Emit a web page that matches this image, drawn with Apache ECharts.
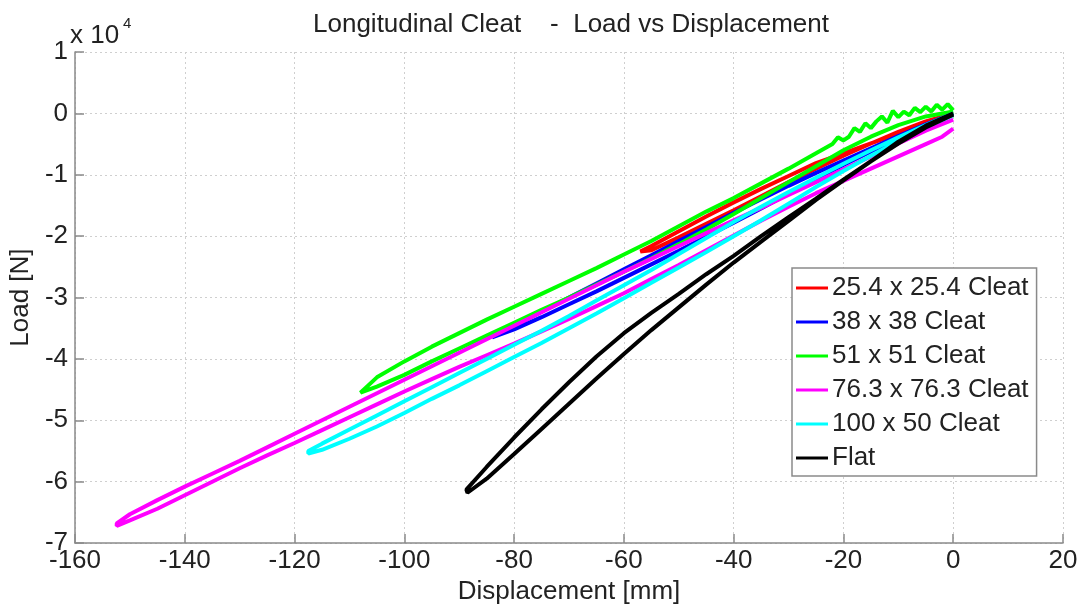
<!DOCTYPE html>
<html>
<head>
<meta charset="utf-8">
<script src="https://cdn.jsdelivr.net/npm/echarts@6/dist/echarts.min.js"></script>
<style>
html,body{margin:0;padding:0;background:#fff;}
#c{width:1084px;height:610px;}
</style>
</head>
<body>
<div id="c"></div>
<script>
// Tick labels
const xTicks = [-160, -140, -120, -100, -80, -60, -40, -20, 0, 20];
const yTicks = [1, 0, -1, -2, -3, -4, -5, -6, -7]; // x 10^4 N

const seriesNames = ['25.4 x 25.4 Cleat', '38 x 38 Cleat', '51 x 51 Cleat', '76.3 x 76.3 Cleat', '100 x 50 Cleat', 'Flat'];
const seriesColors = ['#ff0000', '#0000ff', '#00ff00', '#ff00ff', '#00ffff', '#000000'];

// [displacement mm, load N] — loading branch then unloading branch
const cleat25 = [
  [0,0],[-5,-1600],[-10,-3300],[-15,-4900],[-20,-6500],[-25,-8100],[-30,-10200],[-35,-12300],[-40,-14500],[-45,-16800],[-50,-19200],[-55,-21600],[-57,-22500],
  [-57,-22800],[-55,-22300],[-50,-20200],[-45,-18000],[-40,-15800],[-35,-13500],[-30,-11200],[-25,-9000],[-20,-6900],[-15,-4900],[-10,-3000],[-5,-1300],[0,0]
];
const cleat38 = [
  [0,0],[-5,-1800],[-10,-3700],[-15,-5700],[-20,-7700],[-25,-9700],[-30,-11800],[-35,-14000],[-40,-16200],[-45,-18500],[-50,-20800],[-55,-23100],[-60,-25400],[-65,-27700],[-70,-30000],[-75,-32300],[-80,-34600],[-84,-36500],
  [-84,-36700],[-80,-35200],[-75,-33200],[-70,-31100],[-65,-29000],[-60,-26800],[-55,-24600],[-50,-22400],[-45,-20100],[-40,-17800],[-35,-15500],[-30,-13100],[-25,-10700],[-20,-8400],[-15,-6200],[-10,-4000],[-5,-1900],[0,0]
];
const cleat51 = [
  [0,500],[-1,1500],[-2,600],[-3,1400],[-4,300],[-5,1100],[-6,200],[-7,900],[-8,-300],[-9,300],[-10,-600],[-11,400],[-12,-1500],[-13,-500],[-14,-1300],[-15,-2400],[-16,-1600],[-17,-3000],[-18,-2400],[-19,-3800],[-20,-4400],[-21,-3900],[-22,-5000],[-25,-6500],[-30,-9000],[-35,-11400],[-40,-13800],[-45,-16000],[-50,-18400],[-55,-20800],[-60,-23000],[-65,-25200],[-70,-27300],[-75,-29400],[-80,-31500],[-85,-33600],[-90,-35800],[-95,-38000],[-100,-40400],[-105,-43000],[-108,-45500],
  [-108,-45800],[-105,-44500],[-100,-42600],[-95,-40400],[-90,-38300],[-85,-36200],[-80,-34100],[-75,-32000],[-70,-30000],[-65,-27900],[-60,-25800],[-55,-23600],[-50,-21300],[-45,-18900],[-40,-16400],[-35,-13800],[-30,-11200],[-25,-8600],[-20,-6000],[-15,-3800],[-10,-1900],[-5,-500],[0,300]
];
const cleat76 = [
  [0,-1000],[-5,-2800],[-10,-4900],[-15,-7000],[-20,-9100],[-25,-11200],[-30,-13300],[-35,-15400],[-40,-17400],[-45,-19500],[-50,-21600],[-55,-23700],[-60,-25800],[-65,-28000],[-70,-30200],[-75,-32400],[-80,-34600],[-85,-36800],[-90,-39000],[-95,-41200],[-100,-43400],[-105,-45600],[-110,-47800],[-115,-50000],[-120,-52200],[-125,-54400],[-130,-56600],[-135,-58700],[-140,-60800],[-145,-63000],[-150,-65300],[-152.4,-66800],
  [-152.4,-67200],[-150,-66300],[-145,-64400],[-140,-62200],[-135,-60000],[-130,-57800],[-125,-55700],[-120,-53700],[-115,-51600],[-110,-49500],[-105,-47400],[-100,-45300],[-95,-43300],[-90,-41300],[-85,-39400],[-80,-37500],[-75,-35500],[-70,-33500],[-65,-31400],[-60,-29300],[-55,-27000],[-50,-24700],[-45,-22300],[-40,-19900],[-35,-17500],[-30,-15200],[-25,-13000],[-20,-11000],[-15,-9000],[-10,-7000],[-5,-5000],[-2,-3800],[0,-2500]
];
const cleat100 = [
  [0,0],[-5,-1900],[-10,-3900],[-15,-6000],[-20,-8200],[-25,-10500],[-30,-12800],[-35,-15200],[-40,-17700],[-45,-20300],[-50,-22900],[-55,-25500],[-60,-28000],[-65,-30500],[-70,-33000],[-75,-35400],[-80,-37700],[-85,-40000],[-90,-42300],[-95,-44600],[-100,-46900],[-105,-49200],[-110,-51500],[-115,-53800],[-117.5,-55000],
  [-117.5,-55400],[-115,-54800],[-110,-53000],[-105,-51000],[-100,-48800],[-95,-46500],[-90,-44300],[-85,-42000],[-80,-39700],[-75,-37400],[-70,-35000],[-65,-32600],[-60,-30100],[-55,-27600],[-50,-25100],[-45,-22600],[-40,-20000],[-35,-17400],[-30,-14700],[-25,-12000],[-20,-9400],[-15,-6900],[-10,-4500],[-5,-2200],[0,-300]
];
const flat = [
  [0,0],[-5,-2000],[-10,-4600],[-15,-7800],[-20,-10800],[-25,-13900],[-30,-16900],[-35,-20000],[-40,-23200],[-45,-26200],[-50,-29400],[-55,-32500],[-60,-35800],[-65,-39600],[-70,-43800],[-75,-48200],[-80,-52800],[-85,-57600],[-88.7,-61300],
  [-88.5,-61800],[-85,-59500],[-80,-55500],[-75,-51400],[-70,-47300],[-65,-43200],[-60,-39200],[-55,-35300],[-50,-31600],[-45,-27900],[-40,-24300],[-35,-20900],[-30,-17500],[-25,-14100],[-20,-10900],[-15,-7800],[-10,-4900],[-5,-2300],[0,-200]
];
const seriesData = [cleat25, cleat38, cleat51, cleat76, cleat100, flat];

const chart = echarts.init(document.getElementById('c'), null, {renderer: 'canvas'});
const FONT = 'Liberation Sans, Arial, sans-serif';
const TXT = '#222';
const AX = '#8a8a8a';
const FS = 26;

chart.setOption({
  backgroundColor: '#fff',
  animation: false,
  title: {
    text: 'Longitudinal Cleat    -  Load vs Displacement',
    left: 566, textAlign: 'center', top: 7,
    textStyle: {fontFamily: FONT, fontSize: FS, fontWeight: 'normal', color: TXT}
  },
  grid: {left: 70, right: 21, top: 52, bottom: 62},
  legend: {
    left: 792, top: 268, orient: 'vertical',
    data: seriesNames,
    icon: 'rect', itemWidth: 32, itemHeight: 3, itemGap: 8,
    padding: [7, 8, 5, 4],
    backgroundColor: '#fff', borderColor: '#8a8a8a', borderWidth: 1.5, borderRadius: 0,
    textStyle: {fontFamily: FONT, fontSize: FS, color: TXT, lineHeight: 26, padding: [0,0,0,-1]}
  },
  xAxis: {
    type: 'value', min: -160, max: 20, interval: 20,
    name: 'Displacement [mm]', nameLocation: 'middle', nameGap: 31,
    nameTextStyle: {fontFamily: FONT, fontSize: FS, color: TXT},
    axisLine: {show: true, onZero: false, lineStyle: {color: AX, width: 1.5}},
    axisTick: {show: true, inside: true, length: 9, lineStyle: {color: AX, width: 1.5}},
    axisLabel: {fontFamily: FONT, fontSize: FS, color: TXT, margin: 5,
      formatter: v => (xTicks.indexOf(v) >= 0 ? String(v) : '')},
    splitLine: {show: true, lineStyle: {color: '#cfcfcf', type: [2, 3], width: 1}}
  },
  yAxis: {
    type: 'value', min: -70000, max: 10000, interval: 10000,
    name: 'Load [N]', nameLocation: 'middle', nameGap: 37, nameRotate: 90,
    nameTextStyle: {fontFamily: FONT, fontSize: FS, color: TXT},
    axisLine: {show: true, onZero: false, lineStyle: {color: AX, width: 1.5}},
    axisTick: {show: true, inside: true, length: 9, lineStyle: {color: AX, width: 1.5}},
    axisLabel: {fontFamily: FONT, fontSize: FS, color: TXT, margin: 7,
      formatter: v => { const t = Math.round(v / 10000); return yTicks.indexOf(t) >= 0 ? String(t) : ''; }},
    splitLine: {show: true, lineStyle: {color: '#cfcfcf', type: [2, 3], width: 1}}
  },
  graphic: [
    {type: 'text', left: 70, top: 23, style: {text: 'x 10', font: FS + 'px ' + FONT, fill: TXT}},
    {type: 'text', left: 123, top: 16, style: {text: '4', font: '15px ' + FONT, fill: TXT}}
  ],
  series: seriesData.map((d, i) => ({
    name: seriesNames[i], type: 'line', data: d,
    showSymbol: false, symbol: 'none',
    lineStyle: {color: seriesColors[i], width: 4},
    itemStyle: {color: seriesColors[i]},
    emphasis: {disabled: true}
  }))
});
</script>
</body>
</html>
